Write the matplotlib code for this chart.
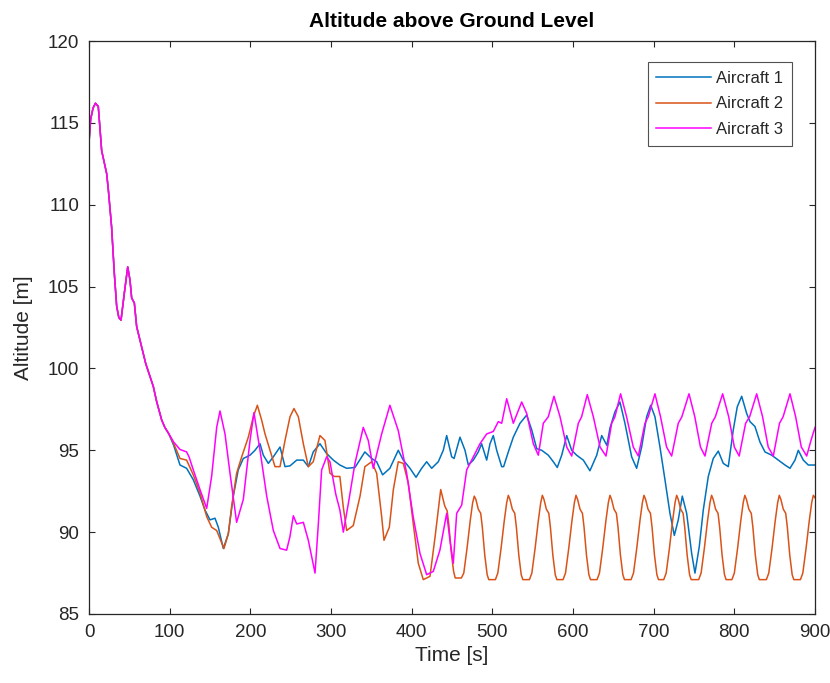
import numpy as np
import matplotlib
matplotlib.use("Agg")
import matplotlib.pyplot as plt

# --- data (time [s], altitude [m]) ---
# shared descent, all three aircraft fly the same path until ~100 s
t_common = [0, 2, 5, 8, 11.5, 15.7, 21.9, 24, 28, 31.4, 34.3, 37, 39.7, 43.8,
            48, 50.8, 52.9, 56.2, 59.1, 65.3, 70.3, 75.6, 79.7, 83.9, 90.1, 94, 99]
alt_common = [113.8, 115.2, 115.9, 116.2, 116.0, 113.3, 111.9, 110.9, 108.65, 105.8,
              103.8, 103.1, 102.95, 104.6, 106.2, 105.4, 104.3, 104.0, 102.55, 101.3,
              100.3, 99.5, 98.9, 97.97, 96.85, 96.4, 96.0]

t1 = [105, 112.8, 121, 129.3, 137.6, 143.8, 150, 156.2, 160.3, 166.5, 172.7, 178.9, 185,
      191.3, 199.6, 205.8, 212, 216.1, 222.3, 228.5, 236.8, 243, 249.2, 257.5, 265.7,
      271.9, 278, 286.3, 294.6, 302.9, 311, 319.4, 329.7, 342, 350.4, 356.6, 364, 373,
      383.4, 389.6, 397.9, 405.4, 412.4, 418.6, 424.8, 433, 439.2, 443.4, 449.6, 452.6,
      459.9, 466.1, 470.2, 476.4, 482.6, 486.7, 493, 497.1, 501.2, 505.4, 511.6, 514,
      519.8, 526, 534.3, 542.6, 548.8, 555, 561.2, 569.4, 575.6, 580.5, 586, 592.2, 598.4,
      604.5, 612.8, 621, 629.4, 635.6, 642, 645.8, 652, 658.2, 664.4, 672.7, 678.9, 685.1,
      691.3, 696.3, 701.6, 707.8, 714, 720.2, 725.6, 730.5, 735.5, 740.9, 747.1, 751.2,
      756.5, 761.5, 767.7, 773.9, 780.1, 786.3, 792.5, 798.7, 803.6, 809.1, 815.3, 819.4,
      825.6, 831.8, 838, 846.3, 854.5, 862.8, 869, 875.2, 879.3, 885.5, 891.7, 900]
alt1 = [95.3, 94.1, 93.9, 93.2, 92.2, 91.35, 90.75, 90.85, 90.3, 89.0, 89.9, 92.2, 93.8,
        94.5, 94.7, 95.0, 95.4, 94.7, 94.2, 94.6, 95.2, 94.0, 94.05, 94.4, 94.4,
        94.0, 94.9, 95.4, 94.8, 94.4, 94.1, 93.9, 93.95, 94.9, 94.5, 94.3, 93.5, 93.9,
        95.0, 94.4, 93.9, 93.35, 93.9, 94.3, 93.9, 94.3, 95.0, 95.9, 94.6, 94.5,
        95.8, 95.0, 94.1, 94.4, 94.9, 95.4, 94.4, 95.4, 95.9, 95.0, 94.0, 94.0,
        94.9, 95.8, 96.65, 97.15, 96.25, 95.1, 95.0, 94.7, 94.3, 93.95, 94.7, 95.9, 95.0,
        94.7, 94.4, 93.75, 94.7, 95.9, 95.3, 96.35, 97.35, 97.95, 96.65, 94.6, 93.9, 95.2,
        97.05, 97.75, 97.05, 95.2, 93.2, 91.15, 89.8, 90.75, 92.2, 91.15, 88.7, 87.5,
        89.1, 91.35, 93.4, 94.5, 94.95, 94.2, 94.0, 96.25, 97.65, 98.3, 97.25, 96.75,
        96.45, 95.5, 94.9, 94.7, 94.4, 94.1, 93.9, 94.4, 95.0, 94.4, 94.1, 94.1]

t2 = [105, 112.8, 121, 129.3, 137.6, 145.9, 152, 158.3, 162.4, 167.3, 172.7, 176.8, 183,
      189.3, 197.5, 203.7, 208.7, 214, 218.2, 224.4, 230.6, 236.8, 243, 249.2, 254.1,
      259.5, 265.7, 271.9, 278, 286.3, 292.5, 298.7, 304, 311, 315.3, 319.4, 327.6, 336,
      342, 350.4, 356.6, 362.8, 365.7, 372.3, 377.3, 383.4, 389.6, 395.8, 402, 408.2,
      414.4, 422.7, 429, 436,
      438, 441, 444, 446, 449, 452, 454, 461.6, 464.6, 468.6, 472.6, 475.6, 477.6,
      479.6, 482.6, 485.6, 487.6, 490.6, 493.6, 495.6, 503.8, 506.8, 510.8, 514.8, 517.8, 519.8,
      521.8, 524.8, 527.8, 529.8, 532.8, 535.8, 537.8, 546, 549, 553, 557, 560, 562,
      564, 567, 570, 572, 575, 578, 580, 587.7, 590.7, 594.7, 598.7, 601.7, 603.7,
      605.7, 608.7, 611.7, 613.7, 616.7, 619.7, 621.7, 629.8, 632.8, 636.8, 640.8, 643.8, 645.8,
      647.8, 650.8, 653.8, 655.8, 658.8, 661.8, 663.8, 672, 675, 679, 683, 686, 688,
      690, 693, 696, 698, 701, 704, 706, 712.5, 715.5, 719.5, 723.5, 726.5, 728.5,
      730.5, 733.5, 736.5, 738.5, 741.5, 744.5, 746.5, 755.8, 758.8, 762.8, 766.8, 769.8, 771.8,
      773.8, 776.8, 779.8, 781.8, 784.8, 787.8, 789.8, 797, 800, 804, 808, 811, 813,
      815, 818, 821, 823, 826, 829, 831, 839.7, 842.7, 846.7, 850.7, 853.7, 855.7,
      857.7, 860.7, 863.7, 865.7, 868.7, 871.7, 873.7, 881.9, 884.9, 888.9, 892.9, 895.9, 897.9,
      900]
alt2 = [95.4, 94.5, 94.4, 93.5, 92.4, 90.95, 90.3, 90.1, 89.6, 89.0, 89.9, 91.55, 93.6,
        94.6, 95.8, 97.05, 97.75, 96.85, 96.0, 95.0, 94.0, 94.0, 95.6, 97.05, 97.55,
        97.05, 95.4, 94.0, 94.3, 95.9, 95.6, 93.6, 93.4, 93.4, 91.5, 90.1, 90.4, 92.2,
        94.0, 94.3, 93.6, 90.95, 89.5, 90.3, 92.6, 94.3, 94.2, 93.0, 90.5, 88.1,
        87.1, 87.3, 89.7, 92.6,
        92.2, 91.6, 91.3, 90.5, 88.8, 87.6, 87.2, 87.2, 87.5, 89.0, 90.7, 91.8, 92.2,
        92.0, 91.4, 91.15, 90.3, 88.6, 87.4, 87.1, 87.1, 87.5, 89.0, 90.7, 91.8, 92.25,
        92.0, 91.4, 91.15, 90.3, 88.6, 87.4, 87.1, 87.1, 87.5, 89.0, 90.7, 91.8, 92.25,
        92.0, 91.4, 91.15, 90.3, 88.6, 87.4, 87.1, 87.1, 87.5, 89.0, 90.7, 91.8, 92.25,
        92.0, 91.4, 91.15, 90.3, 88.6, 87.4, 87.1, 87.1, 87.5, 89.0, 90.7, 91.8, 92.25,
        92.0, 91.4, 91.15, 90.3, 88.6, 87.4, 87.1, 87.1, 87.5, 89.0, 90.7, 91.8, 92.25,
        92.0, 91.4, 91.15, 90.3, 88.6, 87.4, 87.1, 87.1, 87.5, 89.0, 90.7, 91.8, 92.25,
        92.0, 91.4, 91.15, 90.3, 88.6, 87.4, 87.1, 87.1, 87.5, 89.0, 90.7, 91.8, 92.25,
        92.0, 91.4, 91.15, 90.3, 88.6, 87.4, 87.1, 87.1, 87.5, 89.0, 90.7, 91.8, 92.25,
        92.0, 91.4, 91.15, 90.3, 88.6, 87.4, 87.1, 87.1, 87.5, 89.0, 90.7, 91.8, 92.25,
        92.0, 91.4, 91.15, 90.3, 88.6, 87.4, 87.1, 87.1, 87.5, 89.0, 90.7, 91.8, 92.25,
        92.1]

t3 = [105, 112.8, 121, 124, 129.3, 137.6, 145.9, 152, 158.3, 162.4, 168.6, 174.8, 183,
      191.3, 199.6, 204.5, 212, 220.3, 228.5, 236.8, 245, 249, 253.3, 257.5, 265.7, 271.9,
      276, 280.2, 284.3, 288.4, 294.6, 298.7, 306, 311, 315.3, 321.5, 329.7, 340, 346.2,
      352.4, 362.8, 373, 383.4, 393.8, 402, 410.3, 418.6, 426.8, 435, 443.4, 447.5,
      451.6, 455.8, 462, 468.2, 476.4, 484.7, 493, 501.2, 507.4, 511.6, 517.8, 526,
      536.4, 542.6, 550.8, 557, 563.2, 569.4, 576.4, 583.9, 592.2, 598.4, 606.6, 610.7,
      617.7, 625.2, 633.5, 640.9, 648, 652, 659, 666.4, 674.7, 681, 689.2, 693.3, 701.6,
      708.5, 716, 722.3, 730.5, 735, 743.8, 751, 758, 763.6, 772, 776.5, 785.5, 793, 800,
      806, 814, 819, 827.7, 835, 842, 848.3, 856, 860.5, 869, 876, 883, 889.7, 895, 900]
alt3 = [95.5, 95.05, 94.9, 94.6, 93.8, 92.6, 91.45, 93.4, 96.4, 97.4, 96.0, 93.6, 90.6,
        92.0, 95.6, 97.3, 95.0, 92.2, 90.1, 89.0, 88.9, 89.7, 91.0, 90.5, 90.6, 89.5,
        88.5, 87.5, 90.5, 93.8, 94.6, 94.3, 92.3, 91.35, 90.0, 91.75, 94.2, 96.4, 95.6,
        93.9, 96.0, 97.75, 96.2, 93.6, 90.9, 88.7, 87.4, 87.6, 88.9, 91.15, 89.5,
        88.1, 91.15, 91.65, 93.8, 94.6, 95.4, 96.0, 96.15, 96.75, 96.65, 98.15, 96.65,
        97.95, 97.25, 95.4, 94.7, 96.65, 97.05, 98.3, 97.05, 95.2, 94.65, 96.65, 97.05,
        98.4, 97.05, 95.2, 94.65, 96.65, 97.05, 98.45, 97.05, 95.2, 94.65, 96.65, 97.05, 98.45,
        97.05, 95.2, 94.65, 96.65, 97.05, 98.45, 97.05, 95.2, 94.65, 96.65, 97.05, 98.45, 97.05, 95.2,
        94.65, 96.65, 97.05, 98.45, 97.05, 95.2, 94.65, 96.65, 97.05, 98.45, 97.05, 95.2, 94.65, 95.6, 96.4]

labels = ["Aircraft 1", "Aircraft 2", "Aircraft 3"]
colors = ["#0072BD", "#D95319", "#FF00FF"]

plt.rcParams["font.family"] = ["Liberation Sans", "DejaVu Sans"]
text_col = "#262626"

fig = plt.figure(figsize=(8.3, 6.83), dpi=100)
ax = fig.add_axes([89 / 830, 69 / 683, 726 / 830, 573 / 683])

series = [(t1, alt1), (t2, alt2), (t3, alt3)]
for (t, a), lab, col in zip(series, labels, colors):
    tt = np.concatenate([t_common, t])
    aa = np.concatenate([alt_common, a])
    ax.plot(tt, aa, color=col, lw=1.1, label=lab)

ax.set_xlim(0, 900)
ax.set_ylim(85, 120)
ax.set_xticks(np.arange(0, 901, 100))
ax.set_yticks(np.arange(85, 121, 5))
ax.tick_params(direction="in", top=True, right=True, length=4.5, width=0.8,
               labelsize=13.5, colors=text_col, pad=7)
for s in ax.spines.values():
    s.set_color(text_col)
    s.set_linewidth(0.9)

ax.set_title("Altitude above Ground Level", fontsize=15, fontweight="bold",
             color="black", pad=10)
ax.set_xlabel("Time [s]", fontsize=15, color=text_col, labelpad=4)
ax.set_ylabel("Altitude [m]", fontsize=15, color=text_col, labelpad=11)

leg = ax.legend(loc="upper right", bbox_to_anchor=(0.968, 0.963), fontsize=12,
                frameon=True, fancybox=False, handlelength=3.3, borderpad=0.5,
                labelspacing=0.65, handletextpad=0.3, borderaxespad=0)
leg.get_frame().set_edgecolor(text_col)
leg.get_frame().set_linewidth(0.8)
for txt in leg.get_texts():
    txt.set_color(text_col)

fig.savefig("out.png", dpi=100)
